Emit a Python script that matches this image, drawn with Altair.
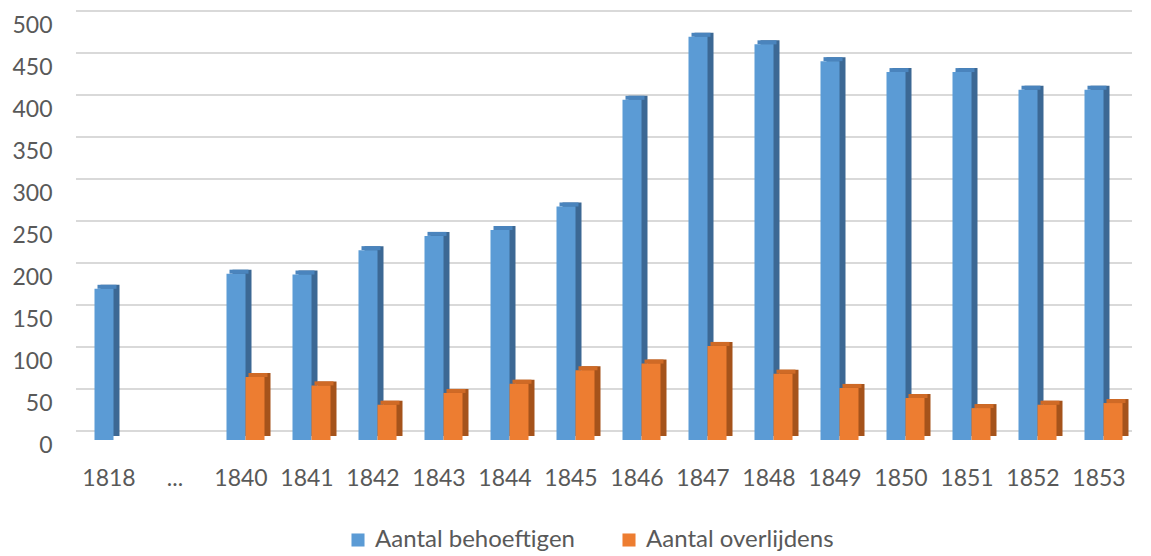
import altair as alt
import pandas as pd

categories = ["1818", "...", "1840", "1841", "1842", "1843", "1844", "1845",
              "1846", "1847", "1848", "1849", "1850", "1851", "1852", "1853"]
behoeftigen = [180, None, 198, 197, 226, 243, 250, 278, 405, 480, 471, 451, 438, 438, 417, 417]
overlijdens = [None, None, 75, 65, 42, 56, 67, 83, 91, 112, 79, 62, 50, 38, 42, 44]
y_ticks = [0, 50, 100, 150, 200, 250, 300, 350, 400, 450, 500]

series_names = ["Aantal behoeftigen", "Aantal overlijdens"]
front_colors = ["#5b9bd5", "#ed7d31"]
top_colors = ["#4a84bd", "#cf6a26"]
side_colors = ["#3c6894", "#a5531b"]

FONT = "Lato"
TXT = "#595959"

df = pd.DataFrame({"jaar": categories, "b": behoeftigen, "o": overlijdens})
grid_df = pd.DataFrame({"v": y_ticks})

x_enc = alt.X("jaar:N", sort=categories,
              scale=alt.Scale(paddingInner=0, paddingOuter=0),
              axis=alt.Axis(title=None, labelAngle=0, domain=False, ticks=False,
                            labelPadding=27, labelFont=FONT, labelFontSize=23,
                            labelColor=TXT))
y_scale = alt.Scale(domain=[0, 500], nice=False)
y_axis = alt.Axis(title=None, values=y_ticks, domain=False, ticks=False, grid=False,
                  labelPadding=24, labelFont=FONT, labelFontSize=23, labelColor=TXT,
                  labelOffset=5)

color_scale = alt.Scale(domain=series_names, range=front_colors)
legend = alt.Legend(title=None, orient="none", legendX=270, legendY=508,
                    direction="horizontal",
                    labelFont=FONT, labelFontSize=24, labelColor=TXT,
                    symbolType="square", symbolSize=170, labelOffset=5,
                    symbolStrokeWidth=0, columnPadding=42, labelLimit=400)

grid = alt.Chart(grid_df).mark_rule(color="#d9d9d9", strokeWidth=2, yOffset=-9).encode(
    y=alt.Y("v:Q", scale=y_scale, axis=y_axis)
)

W = 19
OFF = [-5, 14]
base = alt.Chart(df)


def series_layers(field, i):
    y = alt.Y(field + ":Q", scale=y_scale, axis=y_axis)
    side = base.mark_bar(width=W, xOffset=OFF[i] + 6, yOffset=-4,
                         color=side_colors[i]).encode(x=x_enc, y=y)
    top = base.mark_tick(size=W, thickness=4, xOffset=OFF[i] + 3, yOffset=-2,
                         color=top_colors[i], opacity=1).encode(x=x_enc, y=y)
    front = base.transform_calculate(s="'" + series_names[i] + "'").mark_bar(
        width=W, xOffset=OFF[i]).encode(
        x=x_enc, y=y,
        color=alt.Color("s:N", scale=color_scale, legend=legend))
    return [side, top, front]


layers = [grid] + series_layers("b", 0) + series_layers("o", 1)

chart = alt.layer(*layers).properties(
    width=1056, height=420, background="white",
    padding={"left": 3, "top": 2, "right": 0, "bottom": 0},
).configure_view(strokeWidth=0)

chart.save("out.html", embed_options={"renderer": "svg", "actions": False})
